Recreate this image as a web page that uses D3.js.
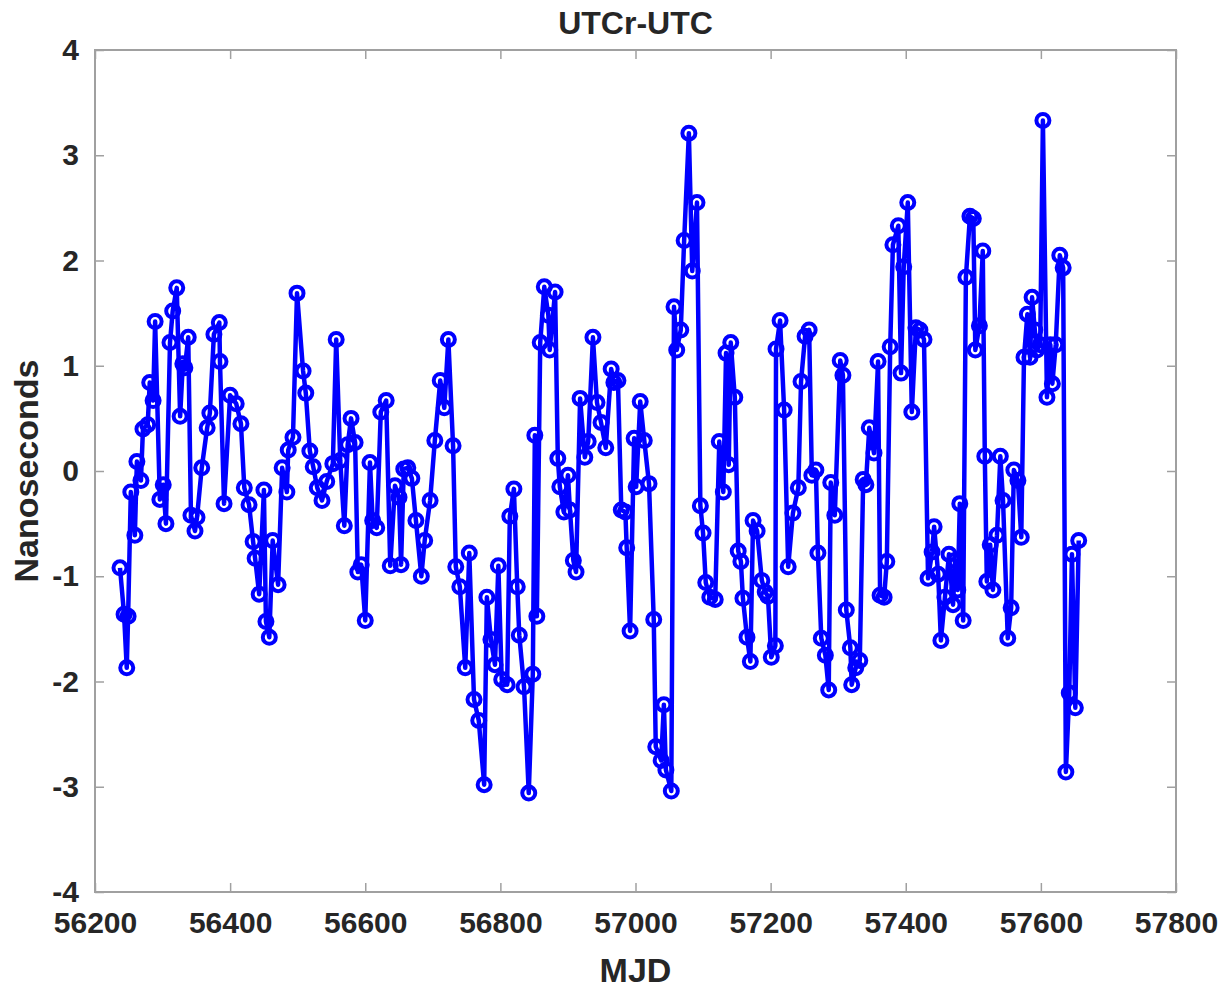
<!DOCTYPE html>
<html>
<head>
<meta charset="utf-8">
<script src="https://cdn.jsdelivr.net/npm/d3@7"></script>
<style>
  body { margin: 0; background: #fff; }
  text { font-family: "Liberation Sans", Arial, sans-serif; font-weight: bold; fill: #262626; }
</style>
</head>
<body>
<div id="chart"></div>
<script>
// MJD of each UTCr-UTC sample
const mjd = [
  56237,56243,56247,56249,56253,56259,56262,56268,56271,56278,56281,56286,56289,56296,56301,56305,
  56311,56315,56321,56326,56330,56333,56338,56342,56348,56351,56358,56366,56370,56376,56384,56385,
  56391,56400,56409,56416,56421,56428,56434,56437,56443,56450,56453,56458,56463,56471,56477,56484,
  56486,56493,56499,56508,56512,56518,56523,56529,56536,56543,56552,56557,56563,56569,56574,56579,
  56585,56589,56594,56600,56607,56611,56617,56623,56631,56637,56644,56650,56653,56657,56663,56669,
  56675,56683,56688,56696,56703,56711,56717,56723,56730,56734,56740,56748,56754,56761,56768,56776,
  56780,56786,56792,56797,56802,56810,56814,56820,56825,56828,56835,56842,56848,56851,56854,56859,
  56865,56871,56873,56881,56885,56888,56894,56900,56903,56908,56912,56918,56925,56930,56937,56943,
  56949,56956,56964,56968,56974,56979,56985,56987,56992,56998,57001,57007,57013,57020,57027,57030,
  57038,57042,57045,57053,57057,57061,57067,57072,57079,57084,57091,57096,57100,57104,57110,57118,
  57124,57130,57134,57138,57141,57147,57152,57156,57159,57165,57170,57174,57180,57187,57192,57196,
  57201,57207,57208,57214,57220,57226,57233,57241,57245,57251,57257,57261,57267,57270,57275,57281,
  57286,57289,57295,57303,57307,57312,57318,57320,57326,57332,57337,57341,57346,57353,57359,57362,
  57368,57372,57377,57381,57389,57393,57397,57403,57409,57415,57421,57427,57433,57439,57442,57448,
  57452,57458,57464,57470,57473,57477,57480,57485,57489,57495,57500,57503,57509,57514,57517,57520,
  57525,57529,57535,57540,57544,57551,57556,57560,57566,57571,57575,57580,57584,57587,57591,57594,
  57599,57603,57609,57614,57617,57622,57628,57633,57637,57642,57646,57651,57656
];

// UTCr-UTC in nanoseconds
const offsetNs = [
  -0.92,-1.36,-1.87,-1.38,-0.20,-0.61,0.09,-0.09,0.40,0.44,0.84,0.67,1.42,-0.27,-0.13,-0.50,
  1.22,1.52,1.74,0.52,1.02,0.98,1.27,-0.42,-0.57,-0.44,0.03,0.41,0.55,1.30,1.41,1.04,
  -0.31,0.72,0.64,0.45,-0.16,-0.32,-0.67,-0.83,-1.17,-0.18,-1.43,-1.58,-0.66,-1.08,0.03,-0.20,
  0.20,0.32,1.69,0.95,0.74,0.19,0.04,-0.16,-0.28,-0.10,0.07,1.25,0.10,-0.52,0.25,0.50,
  0.27,-0.96,-0.89,-1.42,0.08,-0.47,-0.54,0.56,0.67,-0.90,-0.14,-0.25,-0.89,0.02,0.03,-0.07,
  -0.47,-1.00,-0.66,-0.28,0.29,0.86,0.60,1.25,0.24,-0.91,-1.10,-1.87,-0.78,-2.17,-2.37,-2.98,
  -1.20,-1.60,-1.84,-0.90,-1.98,-2.03,-0.43,-0.17,-1.10,-1.56,-2.05,-3.06,-1.93,0.34,-1.38,1.22,
  1.75,1.48,1.15,1.70,0.12,-0.15,-0.39,-0.04,-0.37,-0.85,-0.96,0.69,0.13,0.28,1.27,0.65,
  0.46,0.22,0.97,0.84,0.86,-0.37,-0.39,-0.73,-1.52,0.31,-0.15,0.66,0.29,-0.12,-1.41,-2.62,
  -2.75,-2.22,-2.84,-3.04,1.56,1.15,1.34,2.19,3.21,1.90,2.55,-0.33,-0.59,-1.06,-1.20,-1.22,
  0.28,-0.20,1.12,0.06,1.22,0.70,-0.76,-0.86,-1.21,-1.58,-1.81,-0.47,-0.57,-1.04,-1.15,-1.19,
  -1.77,-1.66,1.16,1.43,0.58,-0.91,-0.40,-0.16,0.85,1.28,1.34,-0.04,0.01,-0.78,-1.59,-1.75,
  -2.08,-0.11,-0.42,1.05,0.91,-1.32,-1.68,-2.03,-1.87,-1.80,-0.08,-0.13,0.41,0.17,1.04,-1.18,
  -1.20,-0.86,1.18,2.15,2.33,0.93,1.94,2.55,0.56,1.36,1.34,1.25,-1.02,-0.77,-0.53,-0.98,
  -1.61,-1.20,-0.79,-1.27,-0.85,-1.13,-0.31,-1.42,1.84,2.42,2.40,1.15,1.38,2.09,0.14,-1.05,
  -0.70,-1.13,-0.61,0.14,-0.28,-1.59,-1.30,0.01,-0.09,-0.63,1.08,1.49,1.08,1.65,1.34,1.15,
  1.20,3.33,0.70,1.20,0.83,1.20,2.05,1.93,-2.86,-2.11,-0.79,-2.25,-0.66
];

const xTicks = [56200, 56400, 56600, 56800, 57000, 57200, 57400, 57600, 57800];
const yTicks = [-4, -3, -2, -1, 0, 1, 2, 3, 4];

const data = mjd.map((d, i) => ({ x: d, y: offsetNs[i] }));

const width = 1224, height = 989;
const margin = { top: 50, right: 48, bottom: 97, left: 95 };
const iw = width - margin.left - margin.right;
const ih = height - margin.top - margin.bottom;

const svg = d3.select('#chart')
  .append('svg')
  .attr('width', width)
  .attr('height', height);

const x = d3.scaleLinear().domain([56200, 57800]).range([0, iw]);
const y = d3.scaleLinear().domain([-4, 4]).range([ih, 0]);

const g = svg.append('g').attr('transform', `translate(${margin.left},${margin.top})`);

// frame
g.append('rect')
  .attr('width', iw).attr('height', ih)
  .attr('fill', 'none')
  .attr('stroke', '#a0a0a0')
  .attr('stroke-width', 2);

// axes (inward ticks, mirrored top/right)
const tickStyle = sel => {
  sel.select('.domain').remove();
  sel.selectAll('.tick line').attr('stroke', '#a0a0a0').attr('stroke-width', 1.5);
};

g.append('g')
  .attr('transform', `translate(0,${ih})`)
  .call(d3.axisBottom(x).tickValues(xTicks).tickFormat(d => String(d)).tickSize(-9).tickPadding(20))
  .call(tickStyle)
  .selectAll('text').attr('font-size', 30).attr('fill', '#222');

g.append('g')
  .call(d3.axisTop(x).tickValues(xTicks).tickFormat('').tickSize(-9))
  .call(tickStyle);

g.append('g')
  .call(d3.axisLeft(y).tickValues(yTicks).tickFormat(d => String(d)).tickSize(-9).tickPadding(16))
  .call(tickStyle)
  .selectAll('text').attr('font-size', 30).attr('fill', '#222');

g.append('g')
  .attr('transform', `translate(${iw},0)`)
  .call(d3.axisRight(y).tickValues(yTicks).tickFormat('').tickSize(-9))
  .call(tickStyle);

// series
const line = d3.line().x(d => x(d.x)).y(d => y(d.y));

g.append('path')
  .datum(data)
  .attr('fill', 'none')
  .attr('stroke', '#0000ff')
  .attr('stroke-width', 4.5)
  .attr('stroke-linejoin', 'round')
  .attr('d', line);

g.selectAll('circle')
  .data(data)
  .enter()
  .append('circle')
    .attr('cx', d => x(d.x))
    .attr('cy', d => y(d.y))
    .attr('r', 6.5)
    .attr('fill', 'none')
    .attr('stroke', '#0000ff')
    .attr('stroke-width', 4);

// labels
svg.append('text')
  .attr('x', margin.left + iw / 2).attr('y', 34)
  .attr('text-anchor', 'middle')
  .attr('font-size', 32)
  .text('UTCr-UTC');

svg.append('text')
  .attr('x', margin.left + iw / 2).attr('y', 982)
  .attr('text-anchor', 'middle')
  .attr('font-size', 34)
  .text('MJD');

svg.append('text')
  .attr('transform', `translate(38,${margin.top + ih / 2}) rotate(-90)`)
  .attr('text-anchor', 'middle')
  .attr('font-size', 34)
  .text('Nanoseconds');
</script>
</body>
</html>
